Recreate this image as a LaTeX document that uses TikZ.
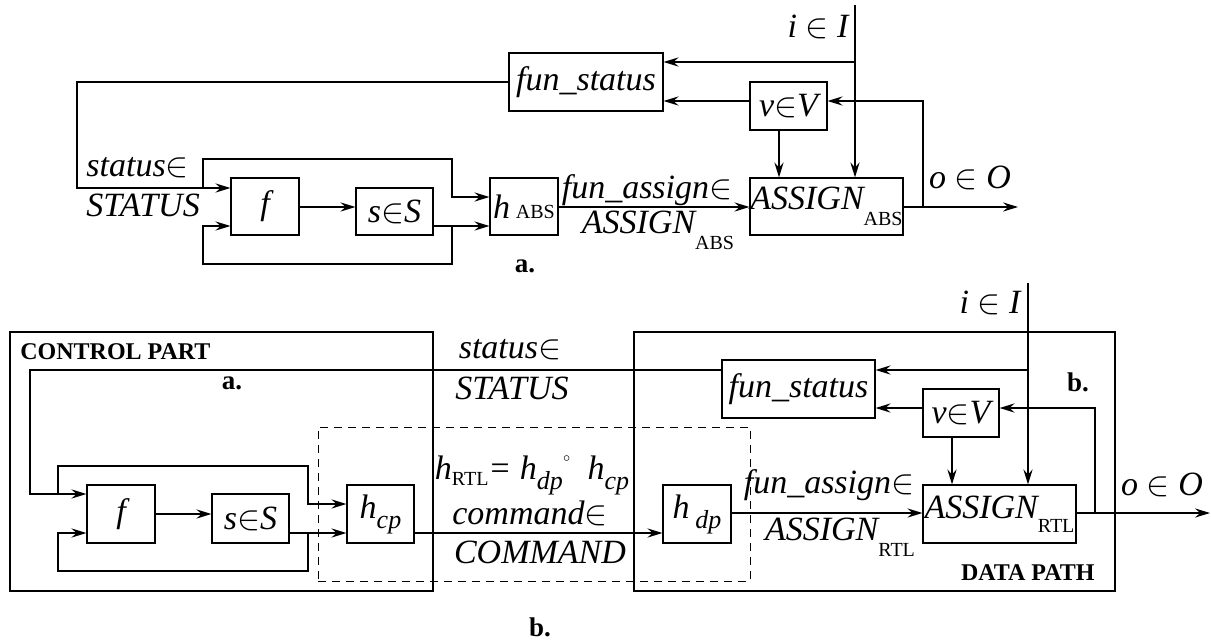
\documentclass[tikz,border=0pt]{standalone}
\usepackage{fontspec}
\setmainfont{Liberation Serif}
\usetikzlibrary{arrows.meta}
\newcommand\mysub[2]{\raisebox{#1}{\fontsize{10}{10}\selectfont\upshape #2}}
\newcommand\myisub[1]{\raisebox{-5pt}{\fontsize{13}{13}\selectfont #1}}
\begin{document}
\begin{tikzpicture}[x=0.5pt,y=-0.5pt,
  box/.style={draw, line width=0.6pt, inner sep=0pt, font=\fontsize{17}{20}\selectfont\itshape},
  lbl/.style={inner sep=0pt, font=\fontsize{17}{20}\selectfont\itshape},
  boldlbl/.style={inner sep=0pt, font=\fontsize{12}{14}\selectfont\bfseries},
  caplbl/.style={inner sep=0pt, font=\fontsize{13.5}{14}\selectfont\bfseries},
  frame/.style={draw, line width=1.1pt, inner sep=0pt},
  dbox/.style={draw, dash pattern=on 4pt off 3pt, line width=0.5pt, inner sep=0pt},
  arr/.style={line width=0.6pt, -{Stealth[length=7.5pt,width=4.6pt,inset=2.6pt]}}]
\useasboundingbox (0,0) rectangle (1211,643);

% ---------------- top diagram (a.) ----------------
\node[box, minimum width=77pt, minimum height=29pt] (fstatA) at (586,82) {fun\_status};
\node[box, minimum width=38.5pt, minimum height=24pt] (vA) at (788.5,106) {v$\in$V};
\node[box, minimum width=34pt, minimum height=28.5pt] (fA) at (265,206.5) {f};
\node[box, minimum width=38.5pt, minimum height=23.5pt] (sA) at (394.5,211.5) {s$\in$S};
\node[box, minimum width=34pt, minimum height=28.5pt] (hA) at (524,206.5) {h\,\mysub{0pt}{ABS}};
\node[box, minimum width=76.5pt, minimum height=28.5pt] (asA) at (826.5,206.5) {ASSIGN\mysub{-8pt}{ABS}};

\node[lbl, anchor=west] (stA1) at (86,168) {status$\in$};
\node[lbl, anchor=west] (stA2) at (86,205) {STATUS};
\node[lbl] (faA1) at (647,190) {fun\_assign$\in$};
\node[lbl] (faA2) at (658,230) {ASSIGN\mysub{-8pt}{ABS}};
\node[caplbl] (capA) at (525,266) {a.};
\node[lbl] (iA) at (818,27) {i $\in$ I};
\node[lbl] (oA) at (970,178) {o $\in$ O};

\coordinate (iAtop) at (855,5);
\coordinate (oAend) at (1018,207);

\draw[arr] (fstatA.west) -| (77,188) -- (fA.west |- 0,188);
\draw[arr] (203,188) |- (452,159) |- (hA.west |- 0,197);
\draw[arr] (fA.east |- 0,207) -- (sA.west |- 0,207);
\draw[arr] (sA.east |- 0,226) -- (hA.west |- 0,226);
\draw[arr] (452,226) |- (203,264) |- (fA.west |- 0,226);
\draw[arr] (hA.east |- 0,207) -- (asA.west |- 0,207);
\draw[arr] (asA.east |- 0,207) -- (oAend);
\draw[arr] (923,207) |- (vA.east |- 0,101);
\draw[arr] (vA.west |- 0,101) -- (fstatA.east |- 0,101);
\draw[arr] (iAtop) -- (855,0 |- asA.north);
\draw[arr] (855,62) -- (fstatA.east |- 0,62);
\draw[arr] (779,0 |- vA.south) -- (779,0 |- asA.north);

% ---------------- bottom diagram (b.) ----------------
\node[frame, minimum width=211.5pt, minimum height=129.5pt] (cpart) at (221.5,461.5) {};
\node[frame, minimum width=240.5pt, minimum height=129.5pt] (dpath) at (874.5,461.5) {};
\node[dbox, minimum width=216pt, minimum height=77pt] (dash1) at (534,504) {};

\node[box, minimum width=34pt, minimum height=29pt] (fB) at (121,514) {f};
\node[box, minimum width=38.5pt, minimum height=24.5pt] (sB) at (250.5,518.5) {s$\in$S};
\node[box, minimum width=33.5pt, minimum height=29pt] (hcp) at (380.5,514) {h\myisub{cp}};
\node[box, minimum width=34pt, minimum height=29pt] (hdp) at (697,514) {h\,\myisub{dp}};
\node[box, minimum width=76.5pt, minimum height=29pt] (fstatB) at (798.5,389) {fun\_status};
\node[box, minimum width=38pt, minimum height=24pt] (vB) at (961,413) {v$\in$V};
\node[box, minimum width=76.5pt, minimum height=29pt] (asB) at (999.5,514) {ASSIGN\mysub{-7pt}{RTL}};

\node[boldlbl, anchor=west] (cptxt) at (20,352) {CONTROL PART};
\node[caplbl] (capa2) at (232,383) {a.};
\node[lbl] (stB1) at (510,350) {status$\in$};
\node[lbl] (stB2) at (512,388) {STATUS};
\node[lbl] (hrtl) at (532,475) {h\mysub{-3pt}{RTL}= h\myisub{dp}\raisebox{5pt}{\fontsize{9}{9}\selectfont$^\circ$}\hspace{8pt}h\myisub{cp}};
\node[lbl] (cmd1) at (530,513) {command$\in$};
\node[lbl] (cmd2) at (540,552) {COMMAND};
\node[lbl] (faB1) at (829,485) {fun\_assign$\in$};
\node[lbl] (faB2) at (840,537) {ASSIGN\mysub{-8pt}{RTL}};
\node[caplbl] (capb2) at (1078,382) {b.};
\node[boldlbl, anchor=east] (dptxt) at (1095,573) {DATA PATH};
\node[lbl] (iB) at (990,303) {i $\in$ I};
\node[lbl] (oB) at (1162,485) {o $\in$ O};
\node[caplbl] (capB) at (540,627) {b.};

\coordinate (iBtop) at (1028,283);
\coordinate (oBend) at (1210,513);

\draw[arr] (fstatB.west |- 0,370) -| (30,494) -- (fB.west |- 0,494);
\draw[arr] (58,494) |- (308,466) |- (hcp.west |- 0,504);
\draw[arr] (fB.east |- 0,514) -- (sB.west |- 0,514);
\draw[arr] (sB.east |- 0,533) -- (hcp.west |- 0,533);
\draw[arr] (308,533) |- (58,571) |- (fB.west |- 0,533);
\draw[arr] (hcp.east |- 0,533) -- (hdp.west |- 0,533);
\draw[arr] (hdp.east |- 0,513) -- (asB.west |- 0,513);
\draw[arr] (asB.east |- 0,513) -- (oBend);
\draw[arr] (1095,513) |- (vB.east |- 0,408);
\draw[arr] (vB.west |- 0,408) -- (fstatB.east |- 0,408);
\draw[arr] (952,0 |- vB.south) -- (952,0 |- asB.north);
\draw[arr] (iBtop) -- (1028,0 |- asB.north);
\draw[arr] (1028,370) -- (fstatB.east |- 0,370);
\end{tikzpicture}
\end{document}
